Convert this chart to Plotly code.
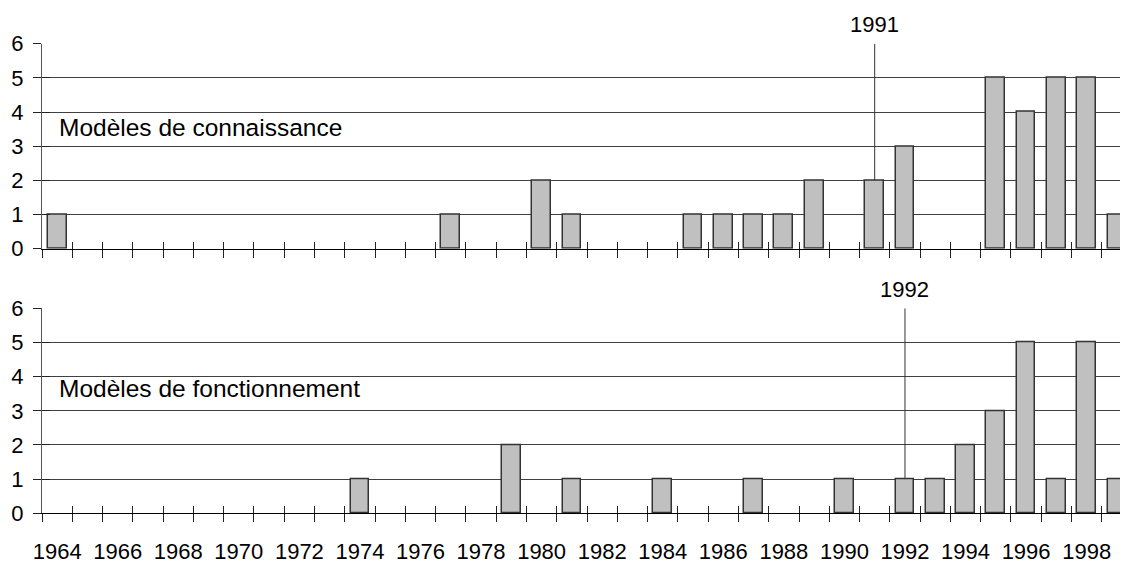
import plotly.graph_objects as go

# ---- data ----
years = list(range(1964, 2000))
connaissance = [1, 0, 0, 0, 0, 0, 0, 0, 0, 0, 0, 0, 0, 1, 0, 0, 2, 1, 0, 0, 0,
                1, 1, 1, 1, 2, 0, 2, 3, 0, 0, 5, 4, 5, 5, 1]
fonctionnement = [0, 0, 0, 0, 0, 0, 0, 0, 0, 0, 1, 0, 0, 0, 0, 2, 0, 1, 0, 0, 1,
                  0, 0, 1, 0, 0, 1, 0, 1, 1, 2, 3, 5, 1, 5, 1]
label_years = list(range(1964, 1999, 2))
label_text = [str(y) for y in label_years]
marker_top = 1991
marker_bottom = 1992
title_top = "Modèles de connaissance"
title_bottom = "Modèles de fonctionnement"

FONT = "Liberation Sans, Arial, sans-serif"
OFF = 8                      # page body margin
W, H = 1128 - OFF, 561 - OFF
LEFT = 42 - OFF
STEP = 30.28
xr = [1963.5, 1963.5 + (W - LEFT) / STEP]
GRID = "#404040"

fig = go.Figure()

def add_panel(vals, xa, ya, marker_year):
    yv = [v if v else None for v in vals]
    fig.add_trace(go.Bar(x=years, y=yv, width=0.62, xaxis=xa, yaxis=ya,
                         marker=dict(color="#C0C0C0", line=dict(color="#333333", width=1.5)),
                         showlegend=False, hoverinfo="x+y"))
    v = vals[years.index(marker_year)]
    fig.add_trace(go.Scatter(x=[marker_year, marker_year], y=[v, 6], mode="lines",
                             line=dict(color="#333333", width=1), xaxis=xa, yaxis=ya,
                             showlegend=False, hoverinfo="skip"))

add_panel(connaissance, "x", "y", marker_top)
add_panel(fonctionnement, "x2", "y2", marker_bottom)

def dom(top_px, bot_px):
    return [1 - (bot_px - OFF) / H, 1 - (top_px - OFF) / H]

top_dom = dom(43.7, 248.7)
bot_dom = dom(308.3, 513.3)
boundaries = [y - 0.5 for y in years]

def yaxis_main(d, anchor):
    return dict(domain=d, range=[0, 6], anchor=anchor, tickvals=list(range(7)),
                showgrid=True, gridcolor=GRID, gridwidth=1, zeroline=False,
                showline=True, linecolor="#555555", linewidth=1,
                ticks="outside", ticklen=8, tickcolor="#222222", tickwidth=1,
                tickfont=dict(family=FONT, size=22, color="black"),
                ticklabelstandoff=5, automargin=False, fixedrange=True)

def yaxis_overlay(ov, anchor):
    return dict(overlaying=ov, range=[0, 6], anchor=anchor, side="left",
                tickvals=list(range(7)), showgrid=False, zeroline=False,
                showline=False, ticks="inside", ticklen=8, tickcolor="#222222",
                showticklabels=False, automargin=False, fixedrange=True)

def xaxis_main(anchor, labels):
    return dict(range=xr, anchor=anchor, domain=[0, 1], tickvals=label_years,
                ticktext=label_text, showticklabels=labels, ticks="",
                showgrid=False, zeroline=False, showline=True, linecolor="black",
                linewidth=1, tickfont=dict(family=FONT, size=22, color="black"),
                ticklabelstandoff=18, automargin=False, fixedrange=True)

def xaxis_tick(ov, anchor, side):
    return dict(overlaying=ov, range=xr, anchor=anchor, side="bottom",
                tickvals=boundaries, ticks=side, ticklen=8 if side == "outside" else 7,
                tickcolor="#222222", tickwidth=1, showticklabels=False,
                showgrid=False, zeroline=False, showline=False,
                automargin=False, fixedrange=True)

fig.update_layout(
    width=W, height=H, margin=dict(l=LEFT, r=0, t=0, b=0, pad=0),
    paper_bgcolor="white", plot_bgcolor="white", bargap=0,
    xaxis=xaxis_main("y", False),
    xaxis2=xaxis_main("y2", True),
    xaxis3=xaxis_tick("x", "y", "outside"),
    xaxis4=xaxis_tick("x", "y", "inside"),
    xaxis5=xaxis_tick("x2", "y2", "outside"),
    xaxis6=xaxis_tick("x2", "y2", "inside"),
    yaxis=yaxis_main(top_dom, "x"),
    yaxis2=yaxis_main(bot_dom, "x2"),
    yaxis3=yaxis_overlay("y", "x"),
    yaxis4=yaxis_overlay("y2", "x2"),
    font=dict(family=FONT, color="black"),
)

# invisible traces so the overlay axes render
for xa, ya in [("x3", "y"), ("x4", "y"), ("x5", "y2"), ("x6", "y2"), ("x", "y3"), ("x2", "y4")]:
    fig.add_trace(go.Scatter(x=[None], y=[None], xaxis=xa, yaxis=ya, showlegend=False,
                             hoverinfo="skip"))

fig.add_annotation(x=marker_top, y=6, xref="x", yref="y", text=str(marker_top),
                   showarrow=False, yanchor="middle", yshift=19,
                   font=dict(family=FONT, size=22, color="black"))
fig.add_annotation(x=marker_bottom, y=6, xref="x2", yref="y2", text=str(marker_bottom),
                   showarrow=False, yanchor="middle", yshift=19,
                   font=dict(family=FONT, size=22, color="black"))
fig.add_annotation(x=xr[0], y=3.54, xref="x", yref="y", text=title_top,
                   showarrow=False, xanchor="left", yanchor="middle", xshift=15,
                   font=dict(family=FONT, size=24.5, color="black"))
fig.add_annotation(x=xr[0], y=3.64, xref="x2", yref="y2", text=title_bottom,
                   showarrow=False, xanchor="left", yanchor="middle", xshift=15,
                   font=dict(family=FONT, size=24.5, color="black"))

fig.write_html("out.html")
